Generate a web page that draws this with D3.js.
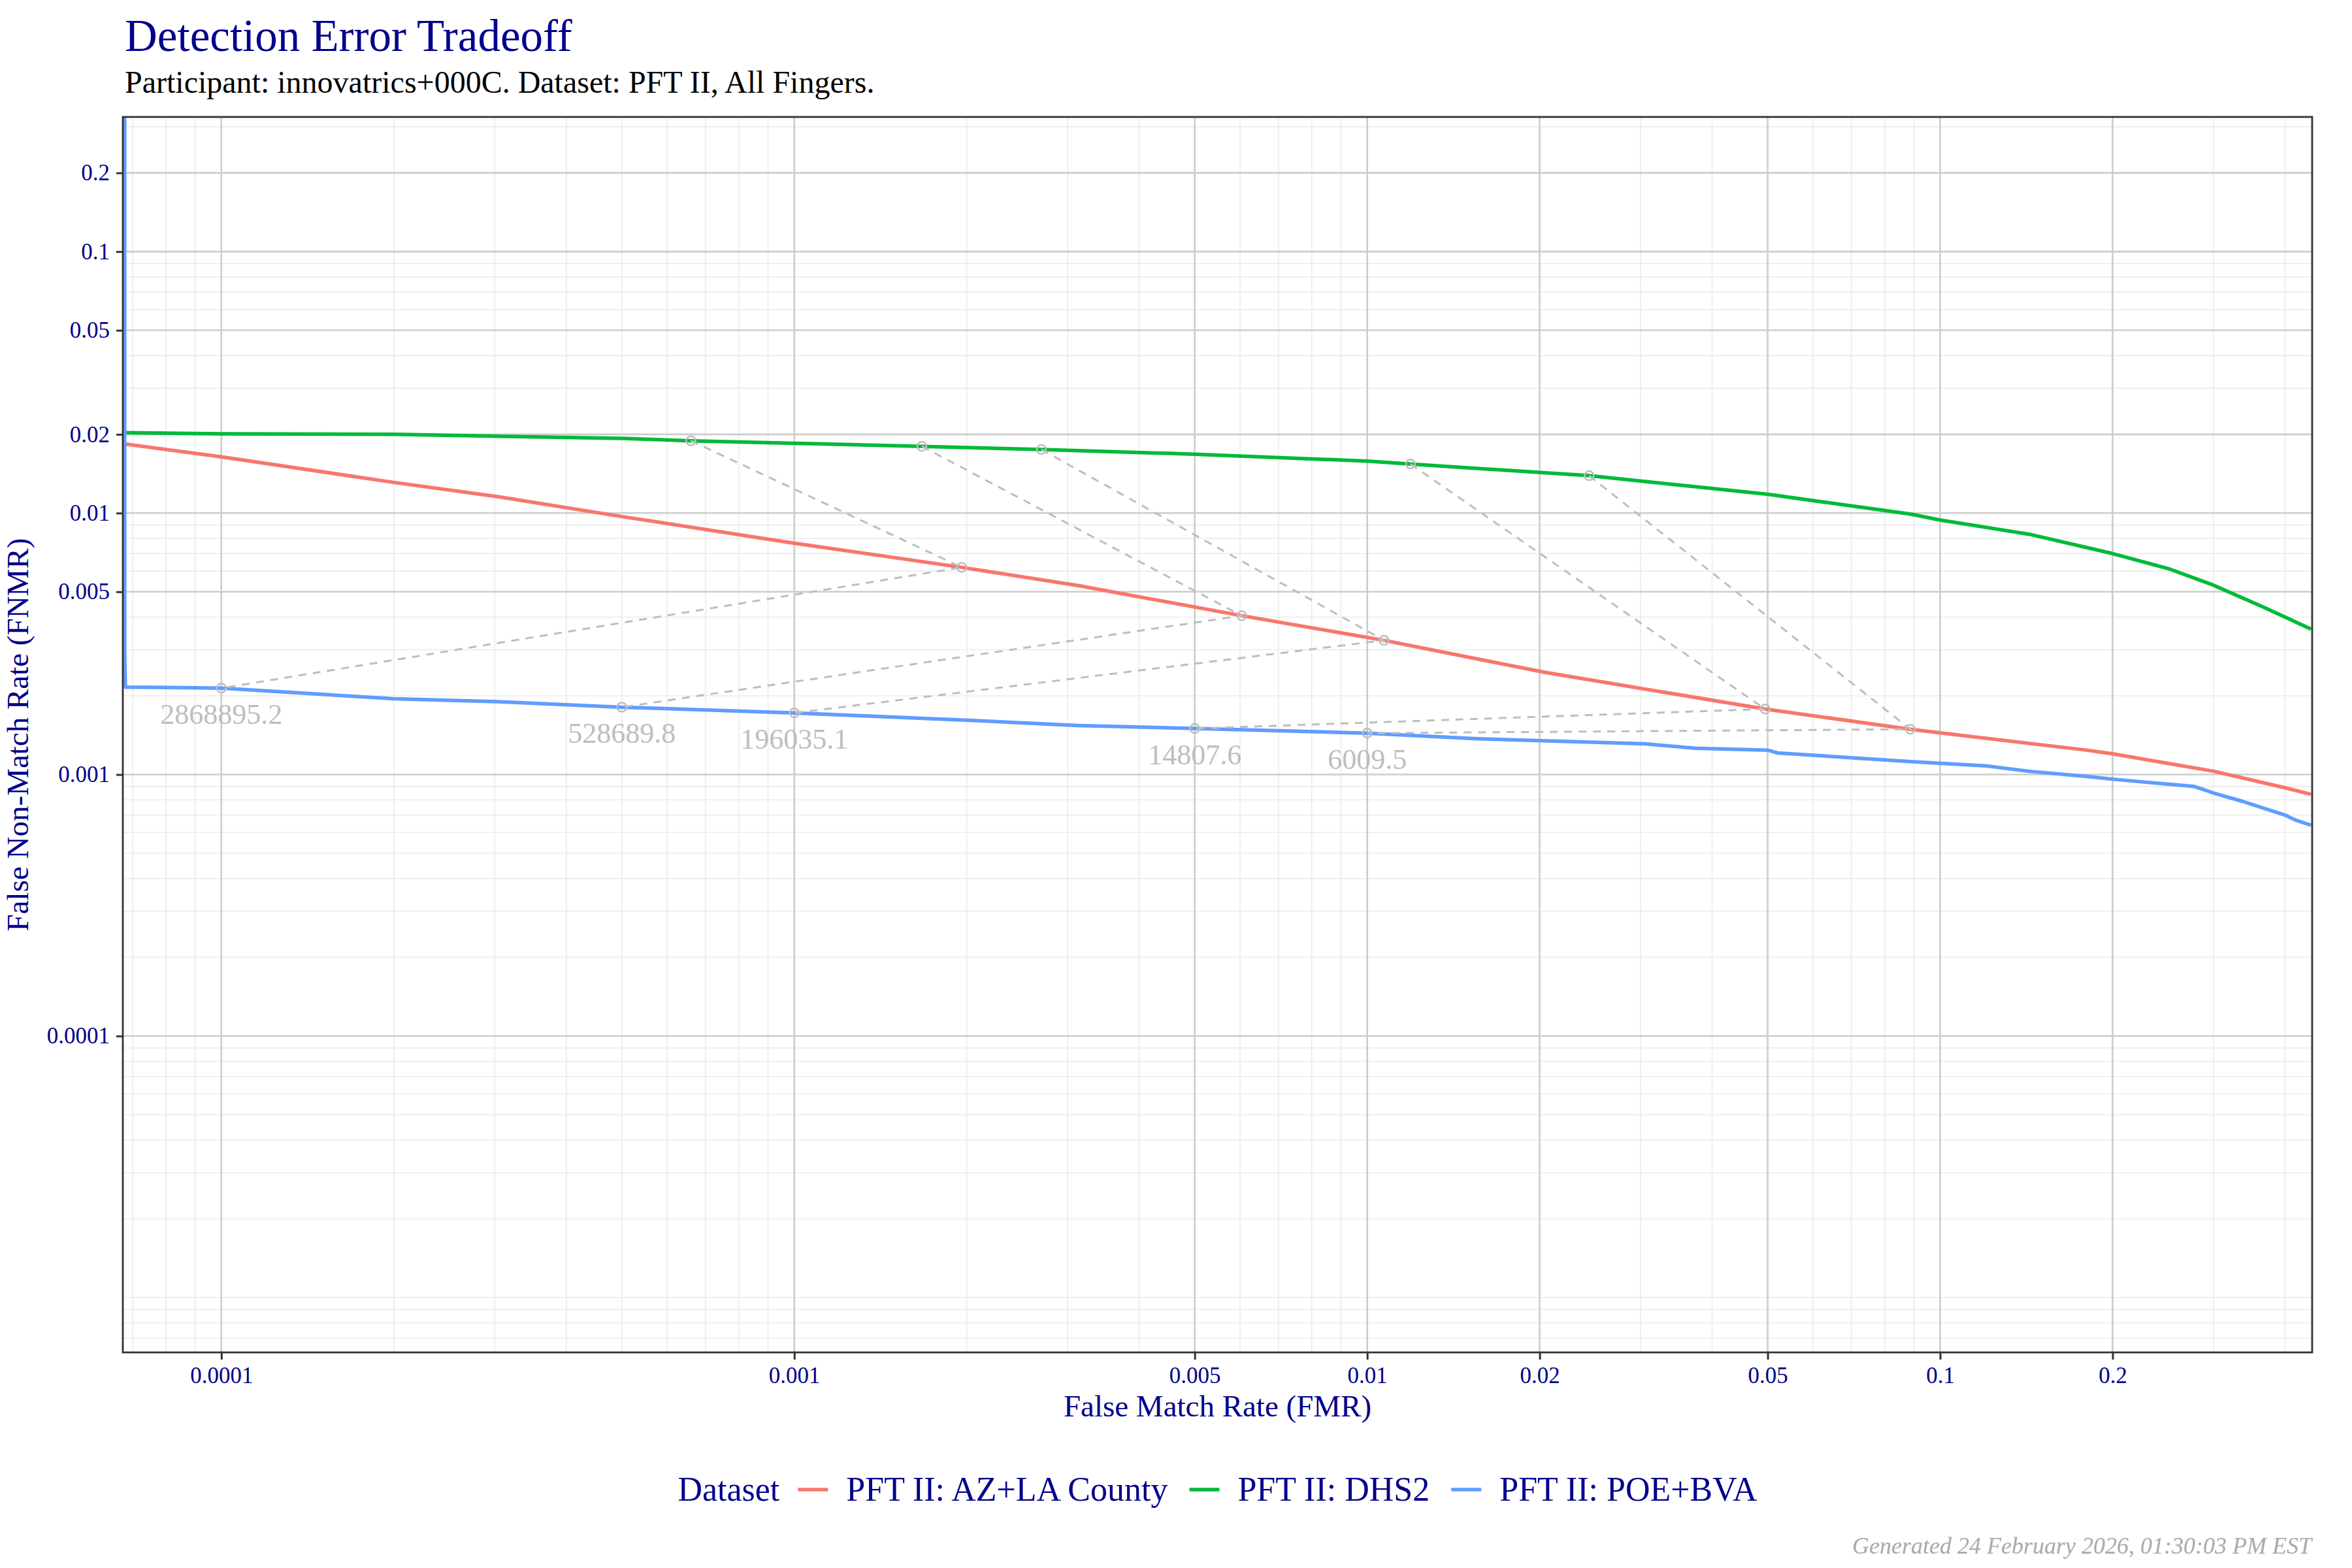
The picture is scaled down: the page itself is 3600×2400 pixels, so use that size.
<!DOCTYPE html>
<html>
<head>
<meta charset="utf-8">
<script src="https://cdn.jsdelivr.net/npm/d3@7"></script>
<style>
  body { margin: 0; background: #fff; }
  text { font-family: "Liberation Serif", "DejaVu Serif", serif; }
</style>
</head>
<body>
<div id="chart"></div>
<script>
// Chart size and panel box
const width = 3600;
const height = 2400;
const panel = { left: 188, right: 3539, top: 179, bottom: 2070 };

// Series names and colours
const seriesNames = ["PFT II: AZ+LA County", "PFT II: DHS2", "PFT II: POE+BVA"];
const seriesColors = ["#F8766D", "#00BA38", "#619CFF"];

// PFT II: AZ+LA County
const azFmr = [6.75e-5, 1e-4, 2e-4, 3.04e-4, 5e-4, 1e-3, 1.96e-3, 3.13e-3, 6.04e-3, 1.07e-2, 2.04e-2, 4.95e-2, 8.87e-2, 0.18, 0.2, 0.3, 0.4, 0.444];
const azFnmr = [0.0184, 0.0164, 0.0131, 0.01155, 0.0097, 0.00767, 0.0062, 0.00528, 0.00405, 0.00326, 0.00246, 0.00178, 0.00149, 0.00124, 0.0012, 0.00103, 0.00089, 0.00084];

// PFT II: DHS2
const dhsFmr = [6.75e-5, 1e-4, 2e-4, 5e-4, 6.6e-4, 1e-3, 1.67e-3, 2.7e-3, 5e-3, 1e-2, 1.19e-2, 2.44e-2, 5e-2, 8.9e-2, 0.1, 0.143, 0.2, 0.252, 0.3, 0.364, 0.4, 0.444];
const dhsFnmr = [0.0203, 0.0201, 0.0200, 0.0193, 0.0189, 0.0185, 0.0180, 0.0175, 0.0168, 0.0158, 0.0154, 0.0139, 0.0118, 0.0099, 0.0094, 0.0083, 0.0070, 0.0061, 0.0053, 0.0044, 0.0040, 0.0036];

// PFT II: POE+BVA
const poeFmr = [6.78e-5, 6.78e-5, 6.8e-5, 1e-4, 2e-4, 3.04e-4, 5e-4, 1e-3, 2.05e-3, 3.13e-3, 5e-3, 1e-2, 1.56e-2, 3.06e-2, 3.74e-2, 5e-2, 5.2e-2, 8.9e-2, 0.12, 0.1425, 0.183, 0.2, 0.278, 0.3, 0.337, 0.4, 0.417, 0.444];
const poeFnmr = [1, 0.00297, 0.00216, 0.00214, 0.00195, 0.0019, 0.00181, 0.00172, 0.00161, 0.00154, 0.0015, 0.00144, 0.00137, 0.00131, 0.00126, 0.00124, 0.00121, 0.00112, 0.00108, 0.00103, 0.00098, 0.00096, 0.0009, 0.00085, 0.00079, 0.0007, 0.00067, 0.00064];

// Threshold annotations (one point per dataset for each threshold)
const thresholds = ["2868895.2", "528689.8", "196035.1", "14807.6", "6009.5"];
const thrGreenFmr = [6.6e-4, 1.67e-3, 2.7e-3, 1.19e-2, 2.44e-2];
const thrGreenFnmr = [0.0189, 0.0180, 0.0175, 0.0154, 0.0139];
const thrRedFmr = [1.96e-3, 6.04e-3, 1.07e-2, 4.95e-2, 8.87e-2];
const thrRedFnmr = [0.0062, 0.00405, 0.00326, 0.00178, 0.00149];
const thrBlueFmr = [1e-4, 5e-4, 1e-3, 5e-3, 1e-2];
const thrBlueFnmr = [0.00214, 0.00181, 0.00172, 0.0015, 0.00144];

// Tick labels
const xTicks = [0.0001, 0.001, 0.005, 0.01, 0.02, 0.05, 0.1, 0.2];
const xTickLabels = ["0.0001", "0.001", "0.005", "0.01", "0.02", "0.05", "0.1", "0.2"];
const yTicks = [0.0001, 0.001, 0.005, 0.01, 0.02, 0.05, 0.1, 0.2];
const yTickLabels = ["0.0001", "0.001", "0.005", "0.01", "0.02", "0.05", "0.1", "0.2"];

const navy = "#00008B";
const annoGrey = "#BEBEBE";

const svg = d3
  .select("#chart")
  .append("svg")
  .attr("width", width)
  .attr("height", height);

svg.append("rect").attr("width", width).attr("height", height).attr("fill", "#fff");

// Scales
const xScale = d3.scaleLog().domain([6.73e-5, 0.446]).range([panel.left, panel.right]);
const yScale = d3.scaleLog().domain([6.166e-6, 0.3273]).range([panel.bottom, panel.top]);

// Minor break positions: 1..9 x 10^n that are not labelled
function minorBreaks(scale, labelled) {
  const [lo, hi] = scale.domain();
  const out = [];
  for (let e = -6; e <= 0; e++) {
    for (let k = 1; k <= 9; k++) {
      const v = k * Math.pow(10, e);
      if (v >= lo && v <= hi && !labelled.some((t) => Math.abs(t - v) / v < 1e-6)) out.push(v);
    }
  }
  return out;
}

const grid = svg.append("g");

// Minor gridlines
grid
  .selectAll(".xminor")
  .data(minorBreaks(xScale, xTicks))
  .join("line")
  .attr("x1", (d) => xScale(d))
  .attr("x2", (d) => xScale(d))
  .attr("y1", panel.top)
  .attr("y2", panel.bottom)
  .attr("stroke", "#EBEBEB")
  .attr("stroke-width", 1.6);

grid
  .selectAll(".yminor")
  .data(minorBreaks(yScale, yTicks))
  .join("line")
  .attr("x1", panel.left)
  .attr("x2", panel.right)
  .attr("y1", (d) => yScale(d))
  .attr("y2", (d) => yScale(d))
  .attr("stroke", "#EBEBEB")
  .attr("stroke-width", 1.6);

// Major gridlines
grid
  .selectAll(".xmajor")
  .data(xTicks)
  .join("line")
  .attr("x1", (d) => xScale(d))
  .attr("x2", (d) => xScale(d))
  .attr("y1", panel.top)
  .attr("y2", panel.bottom)
  .attr("stroke", "#CCCCCC")
  .attr("stroke-width", 2.6);

grid
  .selectAll(".ymajor")
  .data(yTicks)
  .join("line")
  .attr("x1", panel.left)
  .attr("x2", panel.right)
  .attr("y1", (d) => yScale(d))
  .attr("y2", (d) => yScale(d))
  .attr("stroke", "#CCCCCC")
  .attr("stroke-width", 2.6);

// Clip to panel
svg
  .append("clipPath")
  .attr("id", "clip")
  .append("rect")
  .attr("x", panel.left)
  .attr("y", panel.top)
  .attr("width", panel.right - panel.left)
  .attr("height", panel.bottom - panel.top);

const plot = svg.append("g").attr("clip-path", "url(#clip)");

const lineGenerator = d3
  .line()
  .x((d) => xScale(d[0]))
  .y((d) => yScale(d[1]));

const series = [
  d3.zip(azFmr, azFnmr),
  d3.zip(dhsFmr, dhsFnmr),
  d3.zip(poeFmr, poeFnmr),
];

series.forEach((pts, i) => {
  plot
    .append("path")
    .datum(pts)
    .attr("d", lineGenerator)
    .attr("fill", "none")
    .attr("stroke", seriesColors[i])
    .attr("stroke-width", 5.5)
    .attr("stroke-linejoin", "round");
});

// Threshold connectors: DHS2 -> AZ+LA -> POE+BVA
thresholds.forEach((t, i) => {
  const pts = [
    [thrGreenFmr[i], thrGreenFnmr[i]],
    [thrRedFmr[i], thrRedFnmr[i]],
    [thrBlueFmr[i], thrBlueFnmr[i]],
  ];
  plot
    .append("path")
    .datum(pts)
    .attr("d", lineGenerator)
    .attr("fill", "none")
    .attr("stroke", annoGrey)
    .attr("stroke-width", 3)
    .attr("stroke-dasharray", "12,10");

  pts.forEach((p) => {
    plot
      .append("circle")
      .attr("cx", xScale(p[0]))
      .attr("cy", yScale(p[1]))
      .attr("r", 7)
      .attr("fill", "none")
      .attr("stroke", annoGrey)
      .attr("stroke-width", 2.5);
  });

  plot
    .append("text")
    .attr("x", xScale(thrBlueFmr[i]))
    .attr("y", yScale(thrBlueFnmr[i]) + 55)
    .attr("text-anchor", "middle")
    .attr("font-size", 44)
    .attr("fill", annoGrey)
    .text(t);
});

// Panel border
svg
  .append("rect")
  .attr("x", panel.left)
  .attr("y", panel.top)
  .attr("width", panel.right - panel.left)
  .attr("height", panel.bottom - panel.top)
  .attr("fill", "none")
  .attr("stroke", "#333333")
  .attr("stroke-width", 2.8);

// Axes
const xAxis = svg
  .append("g")
  .attr("transform", `translate(0, ${panel.bottom})`)
  .call(
    d3
      .axisBottom(xScale)
      .tickValues(xTicks)
      .tickFormat((d, i) => xTickLabels[i])
      .tickSize(11)
      .tickPadding(11)
  );

const yAxis = svg
  .append("g")
  .attr("transform", `translate(${panel.left}, 0)`)
  .call(
    d3
      .axisLeft(yScale)
      .tickValues(yTicks)
      .tickFormat((d, i) => yTickLabels[i])
      .tickSize(10)
      .tickPadding(10)
  );

[xAxis, yAxis].forEach((ax) => {
  ax.select(".domain").remove();
  ax.selectAll(".tick line").attr("stroke", "#333333").attr("stroke-width", 3);
  ax.selectAll(".tick text")
    .attr("fill", navy)
    .attr("font-size", 35)
    .style("font-family", '"Liberation Serif", "DejaVu Serif", serif');
});

// Titles
svg
  .append("text")
  .attr("x", 191)
  .attr("y", 78)
  .attr("font-size", 69)
  .attr("fill", navy)
  .text("Detection Error Tradeoff");

svg
  .append("text")
  .attr("x", 191)
  .attr("y", 142)
  .attr("font-size", 48)
  .attr("fill", "#000")
  .text("Participant: innovatrics+000C. Dataset: PFT II, All Fingers.");

svg
  .append("text")
  .attr("x", (panel.left + panel.right) / 2)
  .attr("y", 2168)
  .attr("text-anchor", "middle")
  .attr("font-size", 47)
  .attr("fill", navy)
  .text("False Match Rate (FMR)");

svg
  .append("text")
  .attr("transform", `translate(43, ${(panel.top + panel.bottom) / 2}) rotate(-90)`)
  .attr("text-anchor", "middle")
  .attr("font-size", 47)
  .attr("fill", navy)
  .text("False Non-Match Rate (FNMR)");

// Legend
const legend = svg.append("g");
const legendY = 2297;
const keyLen = 46;
let cx = 0;

const legTitle = legend
  .append("text")
  .attr("x", cx)
  .attr("y", legendY)
  .attr("font-size", 52)
  .attr("fill", navy)
  .text("Dataset");
cx += legTitle.node().getComputedTextLength() + 28;

seriesNames.forEach((name, i) => {
  legend
    .append("line")
    .attr("x1", cx)
    .attr("x2", cx + keyLen)
    .attr("y1", legendY - 17)
    .attr("y2", legendY - 17)
    .attr("stroke", seriesColors[i])
    .attr("stroke-width", 5.5);
  cx += keyLen + 28;
  const t = legend
    .append("text")
    .attr("x", cx)
    .attr("y", legendY)
    .attr("font-size", 52)
    .attr("fill", navy)
    .text(name);
  cx += t.node().getComputedTextLength();
  if (i < seriesNames.length - 1) cx += 33;
});

legend.attr("transform", `translate(${(panel.left + panel.right) / 2 - cx / 2}, 0)`);

// Footer
svg
  .append("text")
  .attr("x", 3538)
  .attr("y", 2378)
  .attr("text-anchor", "end")
  .attr("font-size", 36)
  .attr("font-style", "italic")
  .attr("fill", "#AAAAAA")
  .text("Generated 24 February 2026, 01:30:03 PM EST");
</script>
</body>
</html>
